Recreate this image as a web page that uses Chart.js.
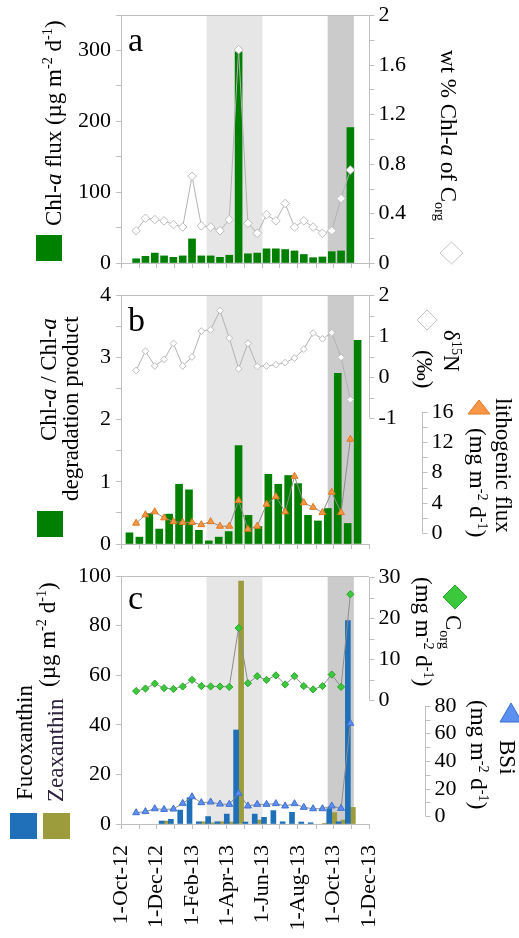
<!DOCTYPE html>
<html>
<head>
<meta charset="utf-8">
<title>Pigment fluxes</title>
<script src="https://cdn.jsdelivr.net/npm/chart.js@4.4.1/dist/chart.umd.min.js"></script>
<style>
  body { margin: 0; background: #fff; }
  #fig { position: relative; width: 519px; height: 938px; overflow: hidden; font-family: 'Liberation Serif', 'Times New Roman', serif; color: #000; }
  #fig canvas { position: absolute; left: 0; }
  .lab { position: absolute; white-space: nowrap; font-size: 23px; line-height: 1; transform-origin: 0 0; }
  .lab sup, .lab sub { font-size: 0.62em; line-height: 0; }
  .letter { position: absolute; font-size: 34px; line-height: 1; }
  .sq { position: absolute; }
</style>
</head>
<body>
<div id="fig">
  <canvas id="panelA" width="519" height="280" style="top:0"></canvas>
  <canvas id="panelB" width="519" height="280" style="top:280px"></canvas>
  <canvas id="panelC" width="519" height="378" style="top:560px"></canvas>
  <div class="letter" style="left:128px;top:23px">a</div>
  <div class="letter" style="left:128px;top:303px">b</div>
  <div class="letter" style="left:128px;top:581px">c</div>
  <div class="sq" style="left:36px;top:235px;width:26px;height:26px;background:#008000"></div>
  <div class="sq" style="left:37px;top:511px;width:26px;height:26px;background:#008000"></div>
  <div class="sq" style="left:10px;top:813px;width:27px;height:26px;background:#1f70b8"></div>
  <div class="sq" style="left:43px;top:813px;width:27px;height:26px;background:#9c9c3c"></div>
  <svg width="519" height="938" style="position:absolute;left:0;top:0">
    <polygon points="451.5,242 463,253 451.5,264 440,253" fill="#fff" stroke="#c4c4c4"/>
    <polygon points="427,310 437,320 427,330 417,320" fill="#fff" stroke="#c4c4c4"/>
    <polygon points="468,414 479,400 490,414" fill="#f79646" stroke="#e0781e"/>
    <polygon points="455,585 467,597 455,609 443,597" fill="#3cc83c" stroke="#2aa52a"/>
    <polygon points="500,722 511,703 522,722" fill="#5b8ff0" stroke="#3f6fd0"/>
  </svg>
</div>
<script>
// sampling dates (cup mid-points) and series
const sampleDates = ['2012-10-27', '2012-11-12', '2012-11-28', '2012-12-14', '2012-12-30', '2013-01-15',
  '2013-01-31', '2013-02-16', '2013-03-04', '2013-03-20', '2013-04-05', '2013-04-21',
  '2013-05-07', '2013-05-23', '2013-06-08', '2013-06-24', '2013-07-10', '2013-07-26',
  '2013-08-11', '2013-08-27', '2013-09-12', '2013-09-28', '2013-10-14', '2013-10-30'];

const chlaFlux = [6, 9.4, 14, 10, 8, 10, 34, 10, 10, 8, 11, 298, 13, 14, 20, 20, 19, 17, 12, 7.5, 8.5, 16, 17, 191];
const chlaPctCorg = [0.26, 0.36, 0.35, 0.34, 0.31, 0.29, 0.70, 0.30, 0.29, 0.26, 0.35, 1.72,
  0.32, 0.24, 0.39, 0.34, 0.48, 0.29, 0.34, 0.29, 0.24, 0.26, 0.52, 0.75];

const chlaRatio = [0.18, 0.11, 0.49, 0.24, 0.48, 0.96, 0.87, 0.22, 0.05, 0.11, 0.20, 1.58,
  0.46, 0.28, 1.12, 0.96, 1.10, 0.97, 0.46, 0.37, 0.57, 2.74, 0.33, 3.27];
const d15N = [0.16, 0.63, 0.27, 0.43, 0.82, 0.27, 0.49, 1.12, 1.15, 1.62, 0.95, 0.20,
  0.82, 0.26, 0.27, 0.30, 0.35, 0.46, 0.68, 1.07, 0.93, 1.08, 0.48, -0.55];
const lithoFlux = [1.3, 2.4, 2.8, 2.0, 1.5, 1.4, 1.4, 1.1, 1.5, 0.9, 0.9, 4.3,
  0.5, 0.9, 3.8, 4.8, 2.8, 7.5, 4.0, 3.4, 2.7, 5.4, 2.7, 12.4];

const fucoxanthin = [null, null, null, 1.2, 1.9, 5.6, 10.6, 0.9, 3.0, 0.9, 4.0, 37.9,
  0.8, 4.0, 2.7, 5.4, 0.9, 4.7, 0.8, 0.5, null, 6.2, 0.9, 82];
const zeaxanthin = [null, null, null, 1.2, null, null, null, 0.9, 0.5, 0.9, 0.8, 98,
  null, 1.6, null, null, null, null, null, null, 0.3, 4.6, 1.6, 6.7];
const corgFlux = [2.3, 2.9, 4.1, 3.0, 2.8, 3.4, 5.0, 3.5, 3.4, 3.4, 3.3, 17.6,
  4.2, 5.9, 5.0, 6.1, 3.9, 5.9, 3.5, 2.7, 3.5, 6.3, 3.3, 25.8];
const bsiFlux = [2.4, 3.2, 5.3, 4.8, 5.1, 9.2, 14, 9.7, 10.2, 8.7, 8.5, 16.5,
  7.3, 8.5, 8.5, 9, 7.3, 9, 6.3, 5.3, 5.3, 7.3, 5.6, 67.4];

const tickLabels = ['1-Oct-12', '1-Dec-12', '1-Feb-13', '1-Apr-13', '1-Jun-13', '1-Aug-13', '1-Oct-13', '1-Dec-13'];
const axisStart = '2012-10-01', axisEnd = '2013-12-01';
const lightShade = ['2013-02-25', '2013-06-01'];
const darkShade = ['2013-09-21', '2013-11-05'];

const AXIS = '#bfbfbf';
const GREEN = '#008000';
const FONT = "'Liberation Serif', 'Times New Roman', serif";

const day = s => (Date.parse(s) - Date.parse(axisStart)) / 864e5;
const xs = sampleDates.map(day);
const pts = arr => arr.map((v, i) => ({x: xs[i], y: v}));
const monthTicks = Array.from({length: 15}, (_, m) => (Date.UTC(2012, 9 + m, 1) - Date.parse(axisStart)) / 864e5);

function xAxis(labels, height) {
  return {
    type: 'linear', position: 'bottom', offset: false, min: day(axisStart), max: day(axisEnd),
    afterBuildTicks: s => { s.ticks = monthTicks.map(v => ({value: v})); },
    grid: {drawOnChartArea: false, offset: false, tickLength: 5, color: AXIS},
    border: {color: AXIS},
    ticks: {display: labels, autoSkip: false, minRotation: 90, maxRotation: 90, padding: 16, color: '#000',
      font: {family: FONT, size: 22}, callback: (v, i) => (i % 2 ? '' : tickLabels[i / 2])},
    afterFit: s => { s.height = height; s.paddingLeft = 0; s.paddingRight = 0; }
  };
}

function leftAxis(max, minor, major) {
  return {
    type: 'linear', position: 'left', min: 0, max,
    afterBuildTicks: s => {
      const n = Math.round(max / minor);
      s.ticks = [];
      for (let k = 0; k <= n; k++) s.ticks.push({value: k * minor});
    },
    grid: {drawOnChartArea: false, tickLength: 5, color: AXIS},
    border: {color: AXIS},
    ticks: {padding: 5, color: '#000', font: {family: FONT, size: 22},
      callback: v => (Math.abs(v / major - Math.round(v / major)) < 1e-6 ? v : '')},
    afterFit: s => { s.width = 121; s.paddingTop = 0; s.paddingBottom = 0; }
  };
}

const hidden = (min, max) => ({type: 'linear', display: false, min, max});

// shaded periods, top frame line and the short right-hand axes
const frame = {
  id: 'frame',
  beforeDraw(chart) {
    const {ctx, chartArea: a, scales: {x}} = chart;
    ctx.save();
    [[lightShade, '#e6e6e6'], [darkShade, '#cbcbcb']].forEach(([r, c]) => {
      const x0 = x.getPixelForValue(day(r[0])), x1 = x.getPixelForValue(day(r[1]));
      ctx.fillStyle = c;
      ctx.fillRect(x0, a.top, x1 - x0, a.bottom - a.top);
    });
    ctx.restore();
  },
  afterDraw(chart, args, opts) {
    const {ctx, chartArea: a} = chart;
    ctx.save();
    ctx.strokeStyle = AXIS;
    ctx.lineWidth = 1;
    ctx.beginPath(); ctx.moveTo(a.left, a.top + 0.5); ctx.lineTo(a.right, a.top + 0.5); ctx.stroke();
    ctx.font = '22px ' + FONT;
    ctx.fillStyle = '#000';
    ctx.textAlign = 'left';
    ctx.textBaseline = 'middle';
    for (const ax of opts.axes || []) {
      const s = chart.scales[ax.id];
      const px = Math.round(ax.x || a.right) + 0.5;
      ctx.beginPath(); ctx.moveTo(px, s.getPixelForValue(ax.from)); ctx.lineTo(px, s.getPixelForValue(ax.to)); ctx.stroke();
      const n = Math.round((ax.to - ax.from) / ax.minor);
      for (let k = 0; k <= n; k++) {
        const v = ax.from + k * ax.minor;
        const py = Math.round(s.getPixelForValue(v)) + 0.5;
        ctx.beginPath(); ctx.moveTo(px, py); ctx.lineTo(px + 5, py); ctx.stroke();
        if (k % ax.every === 0) ctx.fillText(String(+v.toFixed(2)), px + 9, py);
      }
    }
    ctx.restore();
  }
};

function base(padTop, scales, axes) {
  return {
    responsive: false, animation: false, devicePixelRatio: 1, events: [],
    layout: {padding: {top: padTop, right: 150, left: 0, bottom: 0}},
    scales,
    plugins: {legend: {display: false}, tooltip: {enabled: false}, frame: {axes}}
  };
}

const lineDs = (data, yAxisID, o) => Object.assign({type: 'line', data, yAxisID, order: 0, borderWidth: 1,
  tension: 0, pointBorderWidth: 1, clip: false}, o);

new Chart(document.getElementById('panelA'), {
  data: {datasets: [
    lineDs(pts(chlaPctCorg), 'yR', {borderColor: '#b3b3b3', pointStyle: 'rectRot', pointRadius: 4.3,
      pointBackgroundColor: '#fff', pointBorderColor: '#bdbdbd'}),
    {type: 'bar', data: pts(chlaFlux), yAxisID: 'y', order: 1, backgroundColor: GREEN, barThickness: 7}
  ]},
  options: base(15, {x: xAxis(false, 17), y: leftAxis(350, 50, 100), yR: hidden(0, 2)},
    [{id: 'yR', from: 0, to: 2, minor: 0.2, every: 2}]),
  plugins: [frame]
});

new Chart(document.getElementById('panelB'), {
  data: {datasets: [
    lineDs(pts(d15N), 'yD', {borderColor: '#b3b3b3', pointStyle: 'rectRot', pointRadius: 3.4,
      pointBackgroundColor: '#fff', pointBorderColor: '#bdbdbd'}),
    lineDs(pts(lithoFlux), 'yL', {borderColor: '#8c8c8c', pointStyle: 'triangle', pointRadius: 4,
      pointBackgroundColor: '#f79646', pointBorderColor: '#e0781e'}),
    {type: 'bar', data: chlaRatio.map((v, i) => ({x: i, y: v})), xAxisID: 'xi', yAxisID: 'y', order: 1,
      backgroundColor: GREEN, barThickness: 7}
  ]},
  options: base(15, {
    x: xAxis(false, 16),
    xi: {type: 'linear', axis: 'x', display: false, offset: false, min: -0.5, max: 24.5},
    y: leftAxis(4, 0.5, 1),
    yD: hidden(-4.073, 2),
    yL: hidden(-1.455, 31.47)
  }, [{id: 'yD', from: -1, to: 2, minor: 0.5, every: 2},
      {id: 'yL', x: 422, from: 0, to: 16, minor: 2, every: 2}]),
  plugins: [frame]
});

new Chart(document.getElementById('panelC'), {
  data: {datasets: [
    lineDs(pts(corgFlux), 'yC', {borderColor: '#8c8c8c', pointStyle: 'rectRot', pointRadius: 3.6,
      pointBackgroundColor: '#3cc83c', pointBorderColor: '#2aa52a'}),
    lineDs(pts(bsiFlux), 'yB', {borderColor: '#8c8c8c', pointStyle: 'triangle', pointRadius: 4,
      pointBackgroundColor: '#5b8ff0', pointBorderColor: '#3f6fd0'}),
    {type: 'bar', data: pts(fucoxanthin), yAxisID: 'y', order: 1, backgroundColor: '#1f70b8', barThickness: 5},
    {type: 'bar', data: pts(zeaxanthin), yAxisID: 'y', order: 1, backgroundColor: '#9c9c3c', barThickness: 5}
  ]},
  options: base(16, {
    x: xAxis(true, 114),
    y: leftAxis(100, 10, 20),
    yC: hidden(-30, 30.24),
    yB: hidden(-5.8, 174.5)
  }, [{id: 'yC', from: 0, to: 30, minor: 5, every: 2},
      {id: 'yB', x: 425, from: 0, to: 80, minor: 10, every: 2}]),
  plugins: [frame]
});

// rotated axis titles as real text
const fig = document.getElementById('fig');
function label(html, cx, y, dir, anchor, color) {
  const el = document.createElement('div');
  el.className = 'lab';
  el.innerHTML = html;
  if (color) el.style.color = color;
  fig.appendChild(el);
  const len = el.offsetWidth;
  let start = y;
  if (anchor === 'end') start = dir === 'up' ? y + len : y - len;
  el.style.left = cx + 'px';
  el.style.top = start + 'px';
  el.style.transform = (dir === 'up' ? 'rotate(-90deg)' : 'rotate(90deg)') + ' translateY(-50%)';
}
const unitUg = '(µg m<sup>-2</sup> d<sup>-1</sup>)';
const unitMg = '(mg m<sup>-2</sup> d<sup>-1</sup>)';
label('Chl-<i>a</i> flux ' + unitUg, 53, 20, 'up', 'end');
label('Chl-<i>a</i> / Chl-<i>a</i>', 48, 318, 'up', 'end');
label('degradation product', 70, 316, 'up', 'end');
label('Fucoxanthin', 24, 800, 'up');
label('Zeaxanthin', 55, 802, 'up', null, '#2e2240');
label(unitUg, 47, 687, 'up');
label('wt % Chl-<i>a</i> of C<sub>org</sub>', 448, 50, 'down');
label('δ<sup>15</sup>N', 451, 330, 'down');
label('(‰)', 424, 350, 'down');
label('lithogenic flux', 503, 398, 'down');
label(unitMg, 477, 428, 'down');
label('C<sub>org</sub>', 453, 615, 'down');
label(unitMg, 423, 577, 'down');
label('BSi', 507, 740, 'down');
label(unitMg, 478, 700, 'down');
</script>
</body>
</html>
